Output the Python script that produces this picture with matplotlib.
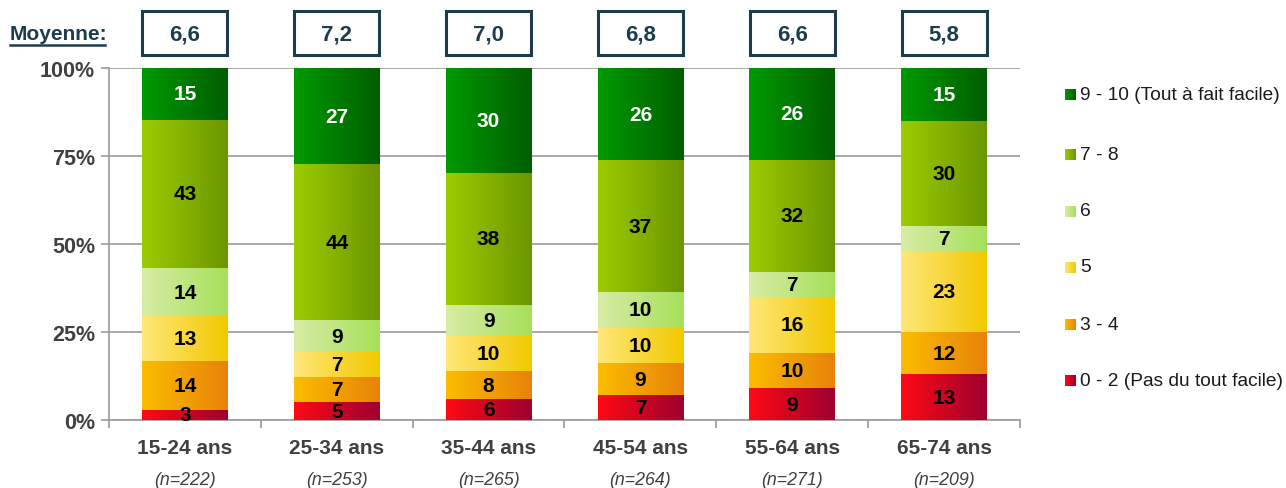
import numpy as np
import matplotlib.pyplot as plt
from matplotlib.colors import LinearSegmentedColormap
from matplotlib.patches import Rectangle

plt.rcParams['font.family'] = ['Liberation Sans', 'DejaVu Sans']

groups = ['15-24 ans', '25-34 ans', '35-44 ans', '45-54 ans', '55-64 ans', '65-74 ans']
n_labels = ['(n=222)', '(n=253)', '(n=265)', '(n=264)', '(n=271)', '(n=209)']
moyennes = ['6,6', '7,2', '7,0', '6,8', '6,6', '5,8']

# bottom to top
levels = ['0 - 2 (Pas du tout facile)', '3 - 4', '5', '6', '7 - 8', '9 - 10 (Tout à fait facile)']
v_0_2 = [3, 5, 6, 7, 9, 13]
v_3_4 = [14, 7, 8, 9, 10, 12]
v_5 = [13, 7, 10, 10, 16, 23]
v_6 = [14, 9, 9, 10, 7, 7]
v_7_8 = [43, 44, 38, 37, 32, 30]
v_9_10 = [15, 27, 30, 26, 26, 15]
series = [v_0_2, v_3_4, v_5, v_6, v_7_8, v_9_10]

# left / right colours of the horizontal gradient
grads = [('#ff0a14', '#9e0030'),
         ('#fbbd00', '#e8820a'),
         ('#ffe77a', '#f2c800'),
         ('#d8eca6', '#a6e05a'),
         ('#9ccc00', '#6c9600'),
         ('#009a00', '#005e00')]
txt_col = ['black', 'black', 'black', 'black', 'black', 'white']

fig = plt.figure(figsize=(12.86, 4.89), dpi=100)
ax = fig.add_axes([109 / 1286, 68 / 489, 911 / 1286, 352 / 489])

data = np.array(series, dtype=float)
pct = data / data.sum(axis=0) * 100
x = np.arange(len(groups))
width = 0.565
bottom = np.zeros(len(groups))
grad = np.linspace(0, 1, 256).reshape(1, -1)

for k in range(len(levels)):
    cmap = LinearSegmentedColormap.from_list('g%d' % k, grads[k])
    bars = ax.bar(x, pct[k], width, bottom=bottom, color='none', edgecolor='none', zorder=3)
    for i, b in enumerate(bars):
        x0, y0 = b.get_x(), b.get_y()
        ax.imshow(grad, cmap=cmap, aspect='auto', zorder=3,
                  extent=(x0, x0 + b.get_width(), y0, y0 + b.get_height()))
        ax.text(x[i], y0 + b.get_height() / 2, str(series[k][i]), ha='center', va='center',
                fontsize=15, fontweight='bold', color=txt_col[k], zorder=5)
    bottom += pct[k]

ax.set_xlim(-0.5, len(groups) - 0.5)
ax.set_ylim(0, 100)
ax.set_yticks([0, 25, 50, 75, 100])
ax.set_yticklabels(['0%', '25%', '50%', '75%', '100%'], fontsize=15.5, fontweight='bold', color='#404040')
ax.yaxis.grid(True, color='#a0a0a0', linewidth=1.3, zorder=0)
ax.set_axisbelow(True)
ax.tick_params(axis='y', length=6, color='#a0a0a0', width=1.3, pad=4)
ax.set_xticks(np.arange(len(groups) + 1) - 0.5)
ax.set_xticklabels([])
ax.tick_params(axis='x', length=6, color='#a0a0a0', width=1.3)
for s in ['top', 'right']:
    ax.spines[s].set_visible(False)
for s in ['left', 'bottom']:
    ax.spines[s].set_color('#a0a0a0')
    ax.spines[s].set_linewidth(1.3)

tr = ax.get_xaxis_transform()
for i in range(len(groups)):
    ax.text(x[i], -0.077, groups[i], transform=tr, ha='center', va='center',
            fontsize=15, fontweight='bold', color='#404040')
    ax.text(x[i], -0.17, n_labels[i], transform=tr, ha='center', va='center',
            fontsize=12.75, style='italic', color='#404040')
    ax.add_patch(Rectangle((x[i] - 0.28, 1.036), 0.56, 0.125, transform=tr, clip_on=False,
                           facecolor='white', edgecolor='#1e3d4c', linewidth=2.2))
    ax.text(x[i], 1.098, moyennes[i], transform=tr, ha='center', va='center',
            fontsize=16, fontweight='bold', color='#1e3d4c')

fig.text(10 / 1286, 1 - 34 / 489, 'Moyenne:', ha='left', va='center', fontsize=15,
         fontweight='bold', color='#1e3d4c')
fig.add_artist(plt.Line2D([10 / 1286, 105 / 1286], [1 - 46 / 489, 1 - 46 / 489],
                          color='#1e3d4c', linewidth=1.8))

# legend with gradient squares
lax = fig.add_axes([0, 0, 1, 1])
lax.set_xlim(0, 1286)
lax.set_ylim(489, 0)
lax.axis('off')
leg_y = [381, 325, 268, 212, 155, 95]
for k in range(len(levels)):
    cmap = LinearSegmentedColormap.from_list('l%d' % k, grads[k])
    y = leg_y[k]
    lax.imshow(grad, cmap=cmap, aspect='auto', extent=(1065, 1076, y + 5.5, y - 5.5))
    lax.text(1080, y, levels[k], ha='left', va='center', fontsize=13.8, color='#1a1a1a')
lax.set_xlim(0, 1286)
lax.set_ylim(489, 0)

fig.savefig('out.png', dpi=100)
